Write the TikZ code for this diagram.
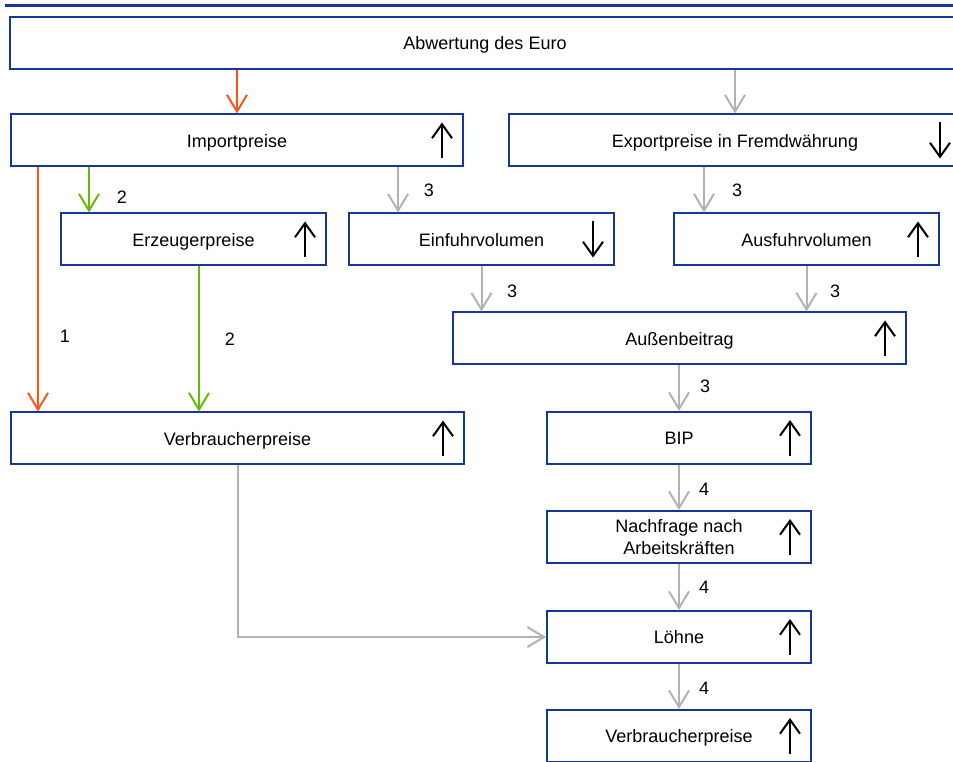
\documentclass[tikz,border=0pt]{standalone}
\usepackage{fontspec}
\setmainfont{Liberation Sans}
\usetikzlibrary{arrows.meta,calc}
\definecolor{rahmenblau}{RGB}{20,55,155}
\definecolor{pfeilgrau}{RGB}{178,178,178}
\definecolor{pfeilorange}{RGB}{255,85,20}
\definecolor{pfeilgruen}{RGB}{102,187,0}
\newcommand{\hoch}[1]{\draw[symbol] ($(#1.east)+(-22,18)$) -- ($(#1.east)+(-22,-18)$);}
\newcommand{\runter}[1]{\draw[symbol] ($(#1.east)+(-22,-18)$) -- ($(#1.east)+(-22,18)$);}
\begin{document}
\begin{tikzpicture}[x=0.75pt,y=-0.75pt]
	\tikzstyle{kasten}=[draw=rahmenblau,line width=1.5pt,fill=white,minimum height=39pt,inner sep=0pt,text depth=0pt,font=\fontsize{13.5}{16.5}\selectfont,align=center]
	\tikzstyle{pfeil}=[line width=1.5pt,-{Straight Barb[length=12.5pt,width=15pt]}]
	\tikzstyle{symbol}=[line width=1.5pt,black,-{Straight Barb[length=10.5pt,width=15pt]}]
	\tikzstyle{zahl}=[inner sep=0pt,font=\fontsize{13.5}{16}\selectfont]
	\useasboundingbox (0,0) rectangle (953,762);
	\draw[rahmenblau,line width=2.25pt] (5,6) -- (960,6);
	\begin{scope}
		\node [kasten,minimum width=712.5pt] (abw) at (485,43) {Abwertung des Euro};
		\node [kasten,minimum width=339pt] (imp) at (237,140.5) {Importpreise};
		\node [kasten,minimum width=339pt] (exp) at (735,140.5) {Exportpreise in Fremdwährung};
		\node [kasten,minimum width=198.75pt] (erz) at (193.5,239.5) {Erzeugerpreise};
		\node [kasten,minimum width=198.75pt] (ein) at (481.5,239.5) {Einfuhrvolumen};
		\node [kasten,minimum width=198.75pt] (aus) at (806.5,239.5) {Ausfuhrvolumen};
		\node [kasten,minimum width=339.75pt] (aub) at (679.5,338.5) {Außenbeitrag};
		\node [kasten,minimum width=339.75pt] (vp1) at (237.5,438.5) {Verbraucherpreise};
		\node [kasten,minimum width=198pt] (bip) at (679,438) {BIP};
		\node [kasten,minimum width=198pt] (nach) at (679,537) {Nachfrage nach\\Arbeitskräften};
		\node [kasten,minimum width=198pt] (loe) at (679,637) {Löhne};
		\node [kasten,minimum width=198pt] (vp2) at (679,736) {Verbraucherpreise};

		\hoch{imp} \runter{exp} \hoch{erz} \runter{ein} \hoch{aus}
		\hoch{aub} \hoch{vp1} \hoch{bip} \hoch{nach} \hoch{loe} \hoch{vp2}

		% Spuren der Pfeile
		\coordinate (xorange) at ($(imp.south west)+(28,0)$);
		\coordinate (xgruen) at ($(erz.north west)+(29,0)$);
		\coordinate (xerz) at ($(erz.south)+(5.5,0)$);
		\coordinate (xein) at ($(ein.north west)+(50,0)$);
		\coordinate (xaus) at ($(aus.north west)+(31,0)$);

		% Wirkungskanaele
		\draw[pfeil,pfeilorange] (imp.north |- abw.south) -- (imp.north);
		\draw[pfeil,pfeilgrau] (exp.north |- abw.south) -- (exp.north);
		\draw[pfeil,pfeilorange] (xorange) -- (xorange |- vp1.north);
		\draw[pfeil,pfeilgruen] (xgruen |- imp.south) -- (xgruen);
		\draw[pfeil,pfeilgruen] (xerz) -- (xerz |- vp1.north);
		\draw[pfeil,pfeilgrau] (xein |- imp.south) -- (xein);
		\draw[pfeil,pfeilgrau] (xaus |- exp.south) -- (xaus);
		\draw[pfeil,pfeilgrau] (ein.south) -- (ein.south |- aub.north);
		\draw[pfeil,pfeilgrau] (aus.south) -- (aus.south |- aub.north);
		\draw[pfeil,pfeilgrau] (aub.south -| bip.north) -- (bip.north);
		\draw[pfeil,pfeilgrau] (bip) -- (nach);
		\draw[pfeil,pfeilgrau] (nach) -- (loe);
		\draw[pfeil,pfeilgrau] (loe) -- (vp2);
		\draw[pfeil,pfeilgrau] (vp1.south) |- (loe.west);

		\node [zahl] (z1) at (65,336) {1};
		\node [zahl] (z2a) at (122,197) {2};
		\node [zahl] (z2b) at (230,339) {2};
		\node [zahl] (z3a) at (429,190) {3};
		\node [zahl] (z3b) at (737,190) {3};
		\node [zahl] (z3c) at (512,291) {3};
		\node [zahl] (z3d) at (835,291) {3};
		\node [zahl] (z3e) at (705,386) {3};
		\node [zahl] (z4a) at (704,489) {4};
		\node [zahl] (z4b) at (704,587) {4};
		\node [zahl] (z4c) at (704,688) {4};
	\end{scope}
\end{tikzpicture}
\end{document}
